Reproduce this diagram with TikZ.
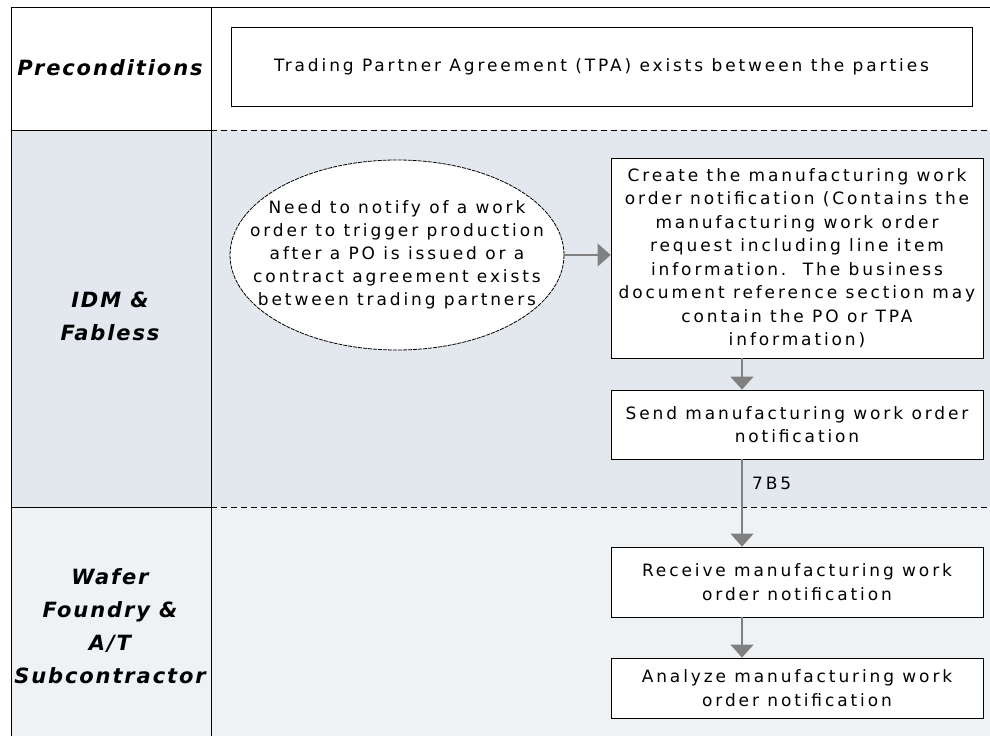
\documentclass[tikz,border=0pt]{standalone}
\usepackage{fontspec}
\setmainfont{DejaVu Sans}
\newfontfamily\stepfont[LetterSpace=17]{DejaVu Sans}
\newfontfamily\lanefont[LetterSpace=9]{DejaVu Sans}
\usepackage{tikz}
\usetikzlibrary{arrows.meta,positioning,shapes.geometric}

\definecolor{laneblue}{HTML}{E3E8EF}
\definecolor{lanepale}{HTML}{EEF2F5}
\definecolor{flowgray}{HTML}{808080}

\begin{document}
\begin{tikzpicture}[
  x=1pt, y=-1pt,
  lanelabel/.style={font=\lanefont\fontsize{21}{33}\selectfont\bfseries\itshape, align=center},
  stepbox/.style={draw, thick, fill=white, minimum width=372pt, inner sep=2pt,
    font=\stepfont\fontsize{17}{23.5}\selectfont, align=center},
  trigger/.style={ellipse, draw, dash pattern=on 4pt off 1pt, thick, fill=white,
    minimum width=334pt, minimum height=190pt, inner xsep=-30pt, inner ysep=0pt,
    font=\stepfont\fontsize{17}{23}\selectfont, align=center},
  flow/.style={draw=flowgray, line width=1.5pt, -{Triangle[width=23pt,length=13pt]}},
  lanesep/.style={dash pattern=on 6pt off 4pt, thick},
  >=stealth
]

% lanes
\useasboundingbox (0,0) rectangle (990,736);
\fill[white] (0,0) rectangle (990,736);
\fill[laneblue] (11,130) rectangle (990,507);
\fill[lanepale] (11,507) rectangle (990,736);
\draw[thick] (11,736) -- (11,7) -- (990,7);
\draw[thick] (211,7) -- (211,736);
\draw[thick] (11,130) -- (211,130);
\draw[thick] (11,507) -- (211,507);
\draw[lanesep] (211,130) -- (990,130);
\draw[lanesep] (211,507) -- (990,507);

\node[lanelabel] (pre) at (110,68) {Preconditions};
\node[lanelabel] (idm) at (110,316) {IDM \&\\Fabless};
\node[lanelabel] (wafer) at (110,626) {Wafer\\Foundry \&\\A/T\\Subcontractor};

% steps
\node[stepbox, minimum width=741pt, minimum height=79pt] (tpa) at (601.5,66.5)
  {Trading Partner Agreement (TPA) exists between the parties};
\node[trigger] (need) at (397,255)
  {Need to notify of a work\\order to trigger production\\after a PO is issued or a\\contract agreement exists\\between trading partners};
\node[stepbox, minimum height=200pt] (create) at (797,258)
  {Create the manufacturing work\\order notification (Contains the\\manufacturing work order\\request including line item\\information.\ \ The business\\document reference section may\\contain the PO or TPA\\information)};
\node[stepbox, minimum height=69pt] (send) at (797,424.5)
  {Send manufacturing work order\\notification};
\node[stepbox, minimum height=70pt] (receive) at (797,582)
  {Receive manufacturing work\\order notification};
\node[stepbox, minimum height=60pt] (analyze) at (797,688)
  {Analyze manufacturing work\\order notification};

\draw[flow] (need.east) -- (create.west |- need.east);
\draw[flow] ([xshift=-55pt]create.south) -- ([xshift=-55pt]send.north);
\draw[flow] ([xshift=-55pt]send.south) -- node[right=6pt, pos=0.27, text=black, font=\stepfont\fontsize{17}{18}\selectfont] (msg) {7B5} ([xshift=-55pt]receive.north);
\draw[flow] ([xshift=-55pt]receive.south) -- ([xshift=-55pt]analyze.north);

\end{tikzpicture}
\end{document}
